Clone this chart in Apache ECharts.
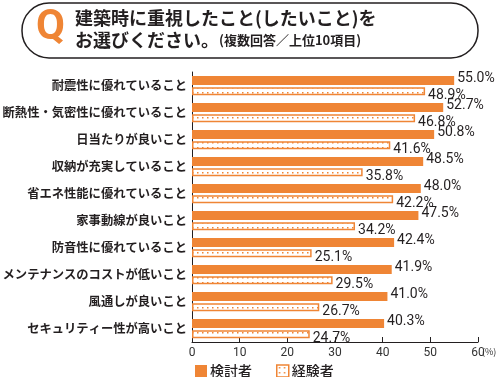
<!DOCTYPE html>
<html>
<head>
<meta charset="utf-8">
<script src="https://cdn.jsdelivr.net/npm/echarts@6/dist/echarts.min.js"></script>
<style>
html,body{margin:0;padding:0;background:#fff;}
#container{width:500px;height:377px;}
</style>
</head>
<body>
<div id="container"></div>
<script>
var categories = ['耐震性に優れていること','断熱性・気密性に優れていること','日当たりが良いこと','収納が充実していること','省エネ性能に優れていること','家事動線が良いこと','防音性に優れていること','メンテナンスのコストが低いこと','風通しが良いこと','セキュリティー性が高いこと'];
var kentou = [55.0, 52.7, 50.8, 48.5, 48.0, 47.5, 42.4, 41.9, 41.0, 40.3];
var keiken = [48.9, 46.8, 41.6, 35.8, 42.2, 34.2, 25.1, 29.5, 26.7, 24.7];
var seriesNames = ['検討者', '経験者'];
var xTicks = [0, 10, 20, 30, 40, 50, 60];

var ORANGE = '#ef8535';
var JP = '"Noto Sans CJK JP", sans-serif';

// dotted fill for the 経験者 bars
var pat = document.createElement('canvas');
pat.width = 5; pat.height = 5;
var ctx = pat.getContext('2d');
ctx.fillStyle = '#fff';
ctx.fillRect(0, 0, 5, 5);
ctx.fillStyle = ORANGE;
ctx.fillRect(2, 2, 1.5, 1.5);

var myChart = echarts.init(document.getElementById('container'));
var option = {
    animation: false,
    grid: { left: 192, right: 22, top: 72, bottom: 35, containLabel: false, outerBoundsMode: 'none' },
    legend: {
        left: 190, top: 359,
        itemWidth: 12, itemHeight: 12, itemGap: 24,
        textStyle: { fontFamily: JP, fontSize: 14, fontWeight: 500, color: '#231f20', padding: [0, 0, 0, -2] },
        data: [
            { name: seriesNames[0], icon: 'rect' },
            { name: seriesNames[1], icon: 'rect', itemStyle: { color: { image: pat, repeat: 'repeat' }, borderColor: ORANGE, borderWidth: 1.5 } }
        ]
    },
    xAxis: {
        type: 'value', min: 0, max: 60, interval: 10,
        axisLine: { show: true, lineStyle: { color: '#231f20', width: 1 } },
        axisTick: { show: true, inside: true, length: 5, lineStyle: { color: '#231f20' } },
        splitLine: { show: false },
        axisLabel: {
            fontFamily: 'Roboto, sans-serif', fontSize: 12, color: '#333', margin: 5,
            formatter: function (v) { return xTicks.indexOf(v) >= 0 ? String(v) : ''; }
        }
    },
    yAxis: {
        type: 'category', inverse: true, data: categories,
        axisLine: { show: true, lineStyle: { color: '#231f20', width: 1 } },
        axisTick: { show: false },
        axisLabel: { fontFamily: JP, fontSize: 12.3, fontWeight: 'bold', color: '#231f20', margin: 5 }
    },
    series: [
        {
            name: seriesNames[0], type: 'bar', data: kentou,
            barWidth: 9, barGap: '25%',
            itemStyle: { color: ORANGE },
            label: {
                show: true, position: 'right', distance: 3, offset: [0, -2],
                fontFamily: 'Roboto, sans-serif', fontSize: 14, color: '#231f20',
                formatter: function (p) { return p.value.toFixed(1) + '%'; }
            }
        },
        {
            name: seriesNames[1], type: 'bar', data: keiken,
            barWidth: 8,
            itemStyle: { color: { image: pat, repeat: 'repeat' }, borderColor: ORANGE, borderWidth: 1.5 },
            label: {
                show: true, position: 'right', distance: 3, offset: [0, 4],
                fontFamily: 'Roboto, sans-serif', fontSize: 14, color: '#231f20',
                formatter: function (p) { return p.value.toFixed(1) + '%'; }
            }
        }
    ],
    graphic: [
        { type: 'rect', shape: { x: 22, y: 3, width: 456, height: 55, r: 27 },
          style: { fill: '#fff', stroke: '#231f20', lineWidth: 1.5 } },
        { type: 'text', left: 36, top: 7,
          style: { text: 'Q', fill: ORANGE, font: 'bold 42px Roboto, sans-serif' } },
        { type: 'text', left: 75, top: 9,
          style: { text: '建築時に重視したこと(したいこと)を', fill: '#231f20', font: 'bold 18px ' + JP } },
        { type: 'text', left: 75, top: 31,
          style: {
              text: '{a|お選びください。}{b|(複数回答／上位10項目)}',
              rich: {
                  a: { fill: '#231f20', font: 'bold 18px ' + JP },
                  b: { fill: '#231f20', font: 'bold 13px ' + JP }
              }
          } },
        { type: 'text', left: 482, top: 347,
          style: { text: '(%)', fill: '#333', font: '9px ' + JP } }
    ]
};
myChart.setOption(option);
</script>
</body>
</html>
